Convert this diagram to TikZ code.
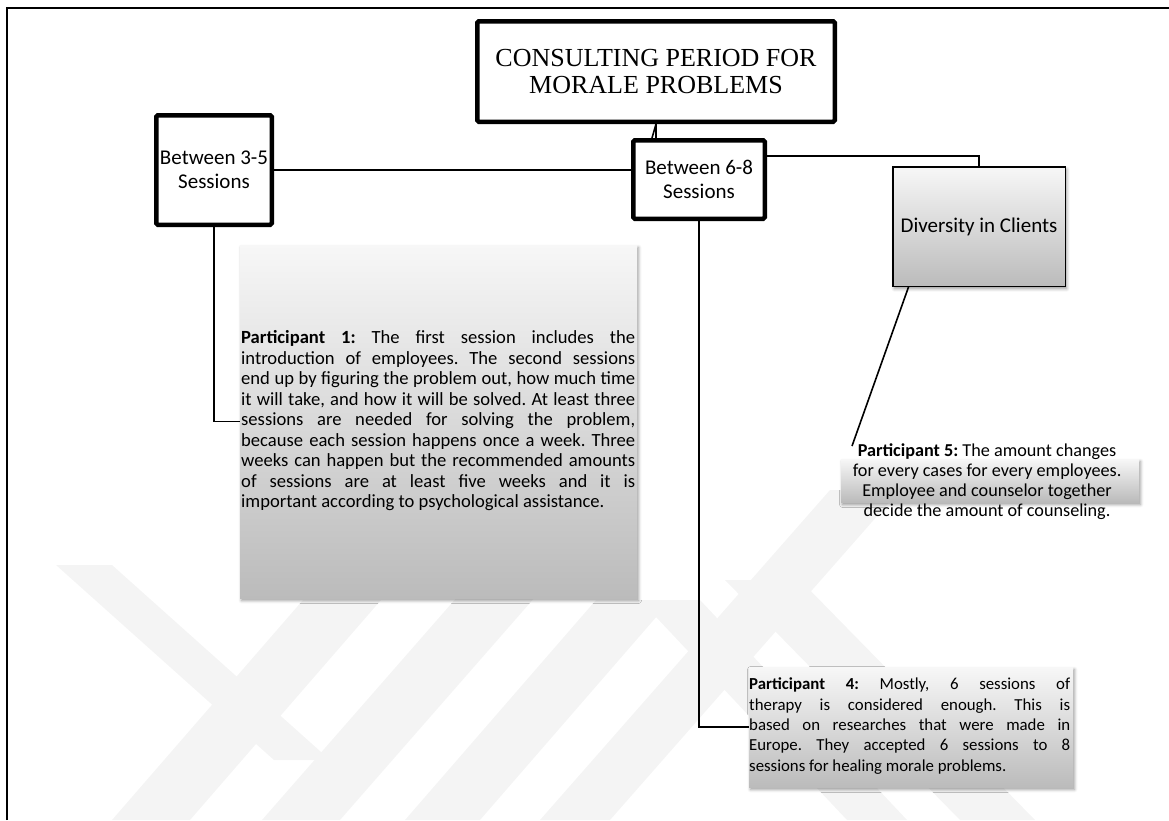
\documentclass[tikz,border=0pt]{standalone}
\usepackage{fontspec}
\setmainfont{Carlito}
\newfontfamily\titlefont{Liberation Serif}
\usetikzlibrary{calc,shadows.blur}
\frenchspacing

\definecolor{shadetop}{HTML}{F7F7F7}
\definecolor{shademid}{HTML}{E4E4E4}
\definecolor{shadebot}{HTML}{BBBBBB}
\definecolor{markgray}{HTML}{F4F4F4}

% one justified line of a text block
\newcommand\justline[2]{\makebox[#1][s]{#2}}

\begin{document}
\begin{tikzpicture}[x=1pt,y=-1pt,
  heavybox/.style={draw=black, line width=4.5pt, rounded corners=1.5pt,
    fill=white, inner sep=0pt, align=center,
    font=\fontsize{21}{23.5}\selectfont},
  shadedbox/.style={top color=shadetop, middle color=shademid,
    bottom color=shadebot, inner sep=0pt,
    blur shadow={shadow xshift=1.5pt, shadow yshift=-2.5pt,
      shadow blur radius=3pt, shadow opacity=40}},
  bodytext/.style={inner sep=0pt, align=left},
  link/.style={draw=black, line width=1.6pt},
  band/.style={fill=markgray, draw=none},
]
\useasboundingbox (0,0) rectangle (1169,820);

% faint background emblem made of slanted bands
\fill[band] (56,565) -- (112,565) -- (330,760) -- (274,760) -- cycle;
\fill[band] (112,820) -- (190,820) -- (381,600) -- (303,600) -- cycle;
\fill[band] (262,820) -- (340,820) -- (620,500) -- (542,500) -- cycle;
\fill[band] (405,820) -- (480,820) -- (671,600) -- (596,600) -- cycle;
\fill[band] (540,820) -- (610,820) -- (900,490) -- (830,490) -- cycle;
\fill[band] (847,820) -- (907,820) -- (700,600) -- (640,600) -- cycle;
\fill[band] (960,820) -- (1035,820) -- (800,580) -- (725,580) -- cycle;

% page frame
\draw[line width=2pt] (6.5,820) -- (6.5,7.5) -- (1169,7.5);

% headline and the two session boxes
\node[heavybox, minimum width=357.5pt, minimum height=100.5pt,
  font=\titlefont\fontsize{26}{27}\selectfont] (title) at (656,71.5)
  {CONSULTING PERIOD FOR\\MORALE PROBLEMS};
\node[heavybox, minimum width=115.5pt, minimum height=109.5pt] (b35)
  at (214,170) {Between 3-5\\Sessions};
\node[heavybox, minimum width=131.5pt, minimum height=78.5pt] (b68)
  at (699,179.5) {Between 6-8\\Sessions};

% shaded boxes
\node[shadedbox, draw=black, line width=1.5pt, minimum width=172.5pt,
  minimum height=119.5pt, font=\fontsize{21}{23.5}\selectfont] (div)
  at (979,226.5) {Diversity in Clients};
\node[shadedbox, minimum width=397pt, minimum height=353pt] (p1box)
  at (438.5,421.5) {};
\node[shadedbox, minimum width=324pt, minimum height=120pt] (p4box)
  at (911,727) {};
\node[shadedbox, minimum width=298pt, minimum height=43pt] (p5box)
  at (990,480.5) {};

% participant statements (anchored on the baseline of their last line)
\node[bodytext, anchor=base west, font=\fontsize{18.6}{20.5}\selectfont]
  (p1text) at (241,507.5) {%
  \justline{394pt}{\textbf{Participant 1:} The first session includes the}\\
  \justline{394pt}{introduction of employees. The second sessions}\\
  \justline{394pt}{end up by figuring the problem out, how much time}\\
  \justline{394pt}{it will take, and how it will be solved. At least three}\\
  \justline{394pt}{sessions are needed for solving the problem,}\\
  \justline{394pt}{because each session happens once a week. Three}\\
  \justline{394pt}{weeks can happen but the recommended amounts}\\
  \justline{394pt}{of sessions are at least five weeks and it is}\\
  important according to psychological assistance.};

\node[bodytext, anchor=base west, font=\fontsize{16.8}{20.3}\selectfont]
  (p4text) at (749,771) {%
  \justline{321pt}{\textbf{Participant 4:} Mostly, 6 sessions of}\\
  \justline{321pt}{therapy is considered enough. This is}\\
  \justline{321pt}{based on researches that were made in}\\
  \justline{321pt}{Europe. They accepted 6 sessions to 8}\\
  sessions for healing morale problems.};

\node[bodytext, align=center, anchor=base, font=\fontsize{18.2}{20}\selectfont]
  (p5text) at (987,516.5) {%
  \textbf{Participant 5:} The amount changes\\
  for every cases for every employees.\\
  Employee and counselor together\\
  decide the amount of counseling.};

% connectors
\coordinate (p5tip) at (852,446);
\draw[link] (title.south) -- (title.south |- b68.north);
\draw[link] (title.south) -- ($(title.south |- b68.north)+(-4,0)$);
\draw[link] (b35.east) -- (b35.east -| b68.west);
\draw[link] ([yshift=23.5pt]b68.east) -| (div.north);
\draw[link] (b35.south) |- (p1box.west);
\draw[link] (b68.south) |- (p4box.west);
\draw[link] ($(div.south west)+(16.5,0)$) -- (p5tip);
\end{tikzpicture}
\end{document}
